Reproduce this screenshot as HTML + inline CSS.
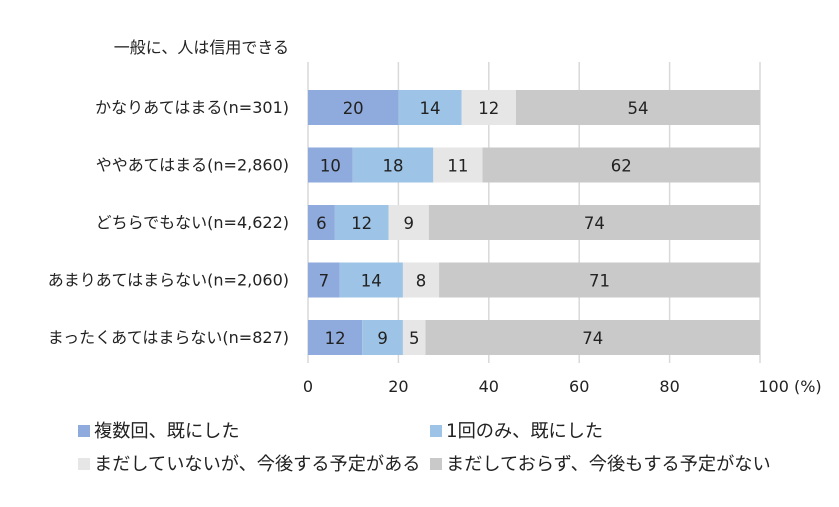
<!DOCTYPE html>
<html><head><meta charset="utf-8"><style>
body{margin:0;background:#fff;font-family:"DejaVu Sans","Noto Sans CJK JP",sans-serif;}
svg text{font-family:"DejaVu Sans","Noto Sans CJK JP",sans-serif;fill:#222;}
</style></head><body>
<svg id="chart" width="839" height="503">
<g id="grid"></g><g id="bars"></g><g id="labels"></g>
<text x="289" y="53" font-size="16" text-anchor="end">一般に、人は信用できる</text>
<g id="legend"></g>
</svg>
<script>
const categories=["かなりあてはまる(n=301)","ややあてはまる(n=2,860)","どちらでもない(n=4,622)","あまりあてはまらない(n=2,060)","まったくあてはまらない(n=827)"];
const s1=[20,10,6,7,12];
const s2=[14,18,12,14,9];
const s3=[12,11,9,8,5];
const s4=[54,62,74,71,74];
const seriesNames=["複数回、既にした","1回のみ、既にした","まだしていないが、今後する予定がある","まだしておらず、今後もする予定がない"];
const ticks=[0,20,40,60,80,100];
const colors=["#8faadc","#9dc3e6","#e7e6e6","#c9c9c9"];
const NS="http://www.w3.org/2000/svg";
const x0=308,x1=760;
const xs=v=>x0+(x1-x0)*v/100;
const rowY=i=>90+i*57.5;
function mk(tag,attrs,parent){const e=document.createElementNS(NS,tag);for(const k in attrs)e.setAttribute(k,attrs[k]);document.getElementById(parent).appendChild(e);return e;}
ticks.forEach(t=>{
 const l=mk('line',{x1:xs(t),x2:xs(t),y1:62,y2:363,stroke:'#d9d9d9','stroke-width':1.5},'grid');
 
 
 const tx=mk('text',{x:xs(t),y:392,'font-size':16,'text-anchor':'middle'},'grid');
 tx.textContent=t===100?'100 (%)':String(t);
 if(t===100){tx.setAttribute('x',xs(t)+30);}
 
 
});
const series=[s1,s2,s3,s4];
categories.forEach((c,i)=>{
 const y=rowY(i);
 const lab=mk('text',{x:289,y:y+23,'font-size':16,'text-anchor':'end'},'labels');
 lab.textContent=c;
 
 
 const tot=series.reduce((a,s)=>a+s[i],0);
 let acc=0;
 series.forEach((s,j)=>{
  const v=s[i];
  const a=acc*100/tot,b=(acc+v)*100/tot;
  const r=mk('rect',{x:xs(a),y:y,width:xs(b)-xs(a),height:35,fill:colors[j]},'bars');
  
  
  const t=mk('text',{x:(xs(a)+xs(b))/2,y:y+24,'font-size':16.5,'text-anchor':'middle'},'bars');
  t.textContent=v;
  
  
  acc+=v;
 });
});
const lpos=[[78,436],[430,436],[78,469],[430,469]];
seriesNames.forEach((n,j)=>{
 const [lx,ly]=lpos[j];
 const r=mk('rect',{x:lx,y:ly-11,width:12,height:12,fill:colors[j]},'legend');
 
 
 const t=mk('text',{x:lx+16,y:ly+1,'font-size':18.2},'legend');
 t.textContent=n;
 
 
});
</script>
</body></html>
